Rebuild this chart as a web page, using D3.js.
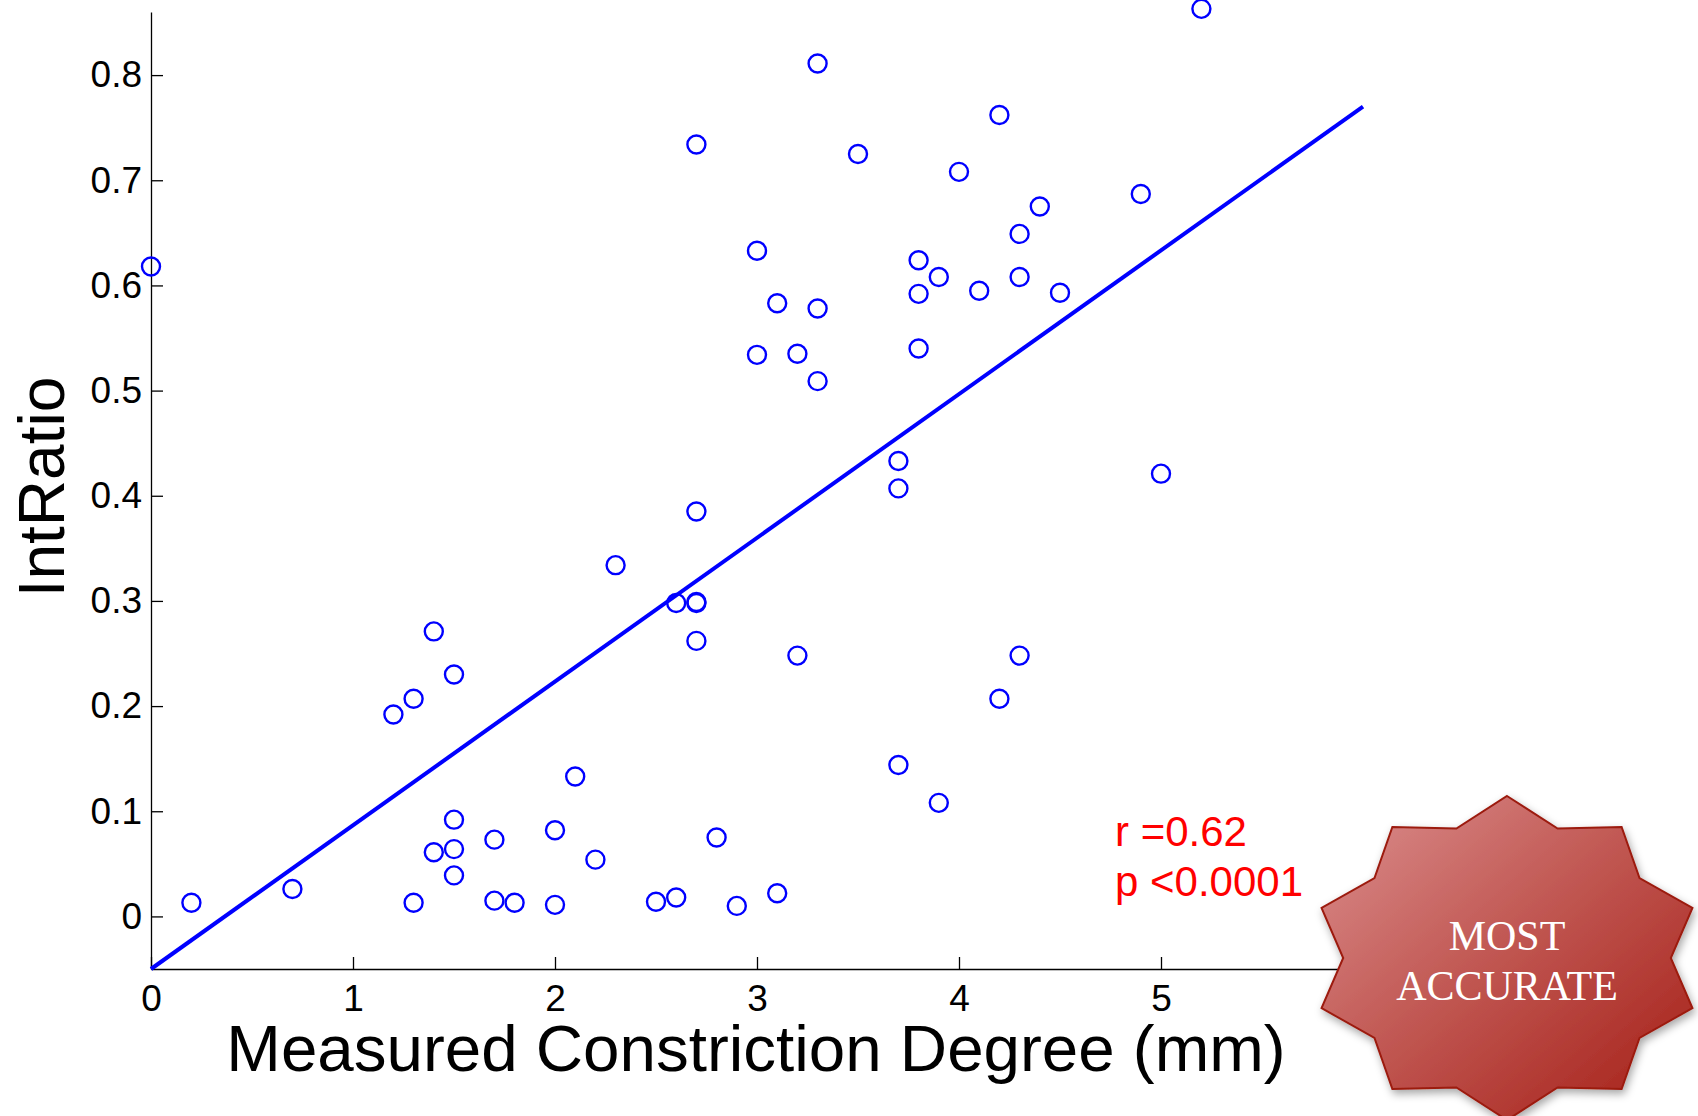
<!DOCTYPE html>
<html>
<head>
<meta charset="utf-8">
<script src="https://cdn.jsdelivr.net/npm/d3@7"></script>
<style>
  body { margin: 0; background: #fff; }
  .axis text { font-family: "Liberation Sans", Arial, Helvetica, sans-serif; font-size: 37px; fill: #000; }
  .axis path, .axis line { stroke: #000; stroke-width: 1.3; }
</style>
</head>
<body>
<script>
// measured constriction degree (mm) and IntRatio
var degree = [0, 0.2, 0.7, 1.2, 1.3, 1.4, 1.5, 1.3, 1.4, 1.5, 1.5, 1.5, 1.7, 1.7, 1.8,
  2.0, 2.0, 2.1, 2.2, 2.3, 2.5, 2.6, 2.6, 2.7, 2.7, 2.7, 2.7, 2.7, 2.8, 2.9,
  3.0, 3.0, 3.1, 3.1, 3.2, 3.2, 3.3, 3.3, 3.3, 3.5, 3.7, 3.7, 3.7, 3.8, 3.8,
  3.8, 3.9, 3.9, 4.0, 4.1, 4.2, 4.2, 4.3, 4.3, 4.3, 4.4, 4.5, 4.9, 5.0, 5.2];
var intRatio = [0.618, 0.013, 0.026, 0.192, 0.207, 0.271, 0.230, 0.013, 0.061, 0.092, 0.064, 0.039, 0.073, 0.015, 0.013,
  0.082, 0.011, 0.133, 0.054, 0.334, 0.014, 0.018, 0.298, 0.298, 0.299, 0.262, 0.385, 0.734, 0.075, 0.010,
  0.633, 0.534, 0.583, 0.022, 0.535, 0.248, 0.811, 0.578, 0.509, 0.725, 0.433, 0.407, 0.144, 0.624, 0.592,
  0.540, 0.608, 0.108, 0.708, 0.595, 0.762, 0.207, 0.649, 0.608, 0.248, 0.675, 0.593, 0.687, 0.421, 0.863];

// least squares line end points
var fitX = [0, 6];
var fitY = [-0.05, 0.77];

var xTicks = [0, 1, 2, 3, 4, 5];
var yTicks = [0, 0.1, 0.2, 0.3, 0.4, 0.5, 0.6, 0.7, 0.8];
var statLines = ["r =0.62", "p <0.0001"];
var badgeLines = ["MOST", "ACCURATE"];

var width = 1698, height = 1116;

var data = degree.map(function(d, i){ return {x: d, y: intRatio[i]}; });

var x = d3.scaleLinear().domain([0, 6]).range([151, 1363]);
var y = d3.scaleLinear().domain([-0.05, 0.86]).range([969, 12]);

var svg = d3.select('body').append('svg')
  .attr('width', width)
  .attr('height', height);

var xAxis = d3.axisBottom(x).tickValues(xTicks).tickSizeInner(-12).tickSizeOuter(0).tickPadding(16)
  .tickFormat(d3.format('d'));
var yAxis = d3.axisLeft(y).tickValues(yTicks).tickSizeInner(-12).tickSizeOuter(0).tickPadding(9)
  .tickFormat(function(d){ return d === 0 ? '0' : d3.format('.1f')(d); });

svg.append('g').attr('class', 'axis').attr('transform', 'translate(0,' + y.range()[0] + ')').call(xAxis);
svg.append('g').attr('class', 'axis').attr('transform', 'translate(' + x.range()[0] + ',0)').call(yAxis);

// axis titles
svg.append('text')
  .attr('x', 756).attr('y', 1071)
  .attr('text-anchor', 'middle')
  .style('font-family', '"Liberation Sans", Arial, sans-serif')
  .style('font-size', '65.5px')
  .text('Measured Constriction Degree (mm)');

svg.append('text')
  .attr('transform', 'translate(64,' + 487 + ') rotate(-90)')
  .attr('text-anchor', 'middle')
  .style('font-family', '"Liberation Sans", Arial, sans-serif')
  .style('font-size', '64px')
  .text('IntRatio');

// fit line
var line = d3.line().x(function(d){ return x(d[0]); }).y(function(d){ return y(d[1]); });
svg.append('path')
  .attr('d', line(fitX.map(function(d, i){ return [d, fitY[i]]; })))
  .attr('fill', 'none')
  .attr('stroke', '#0000ff')
  .attr('stroke-width', 4);

// points
svg.selectAll('.dot')
  .data(data)
  .enter()
  .append('circle')
    .attr('class', 'dot')
    .attr('cx', function(d){ return x(d.x); })
    .attr('cy', function(d){ return y(d.y); })
    .attr('r', 9)
    .attr('fill', 'none')
    .attr('stroke', '#0000ff')
    .attr('stroke-width', 2.4);

// stats
svg.selectAll('.stat')
  .data(statLines)
  .enter()
  .append('text')
    .attr('class', 'stat')
    .attr('x', 1115)
    .attr('y', function(d, i){ return 846 + i * 50; })
    .style('font-family', '"Liberation Sans", Arial, sans-serif')
    .style('font-size', '42px')
    .attr('fill', '#ff0000')
    .text(function(d){ return d; });

// badge
var defs = svg.append('defs');
var grad = defs.append('linearGradient').attr('id', 'badgeGrad')
  .attr('x1', '0%').attr('y1', '0%').attr('x2', '100%').attr('y2', '100%');
grad.append('stop').attr('offset', '0%').attr('stop-color', '#dc9090');
grad.append('stop').attr('offset', '45%').attr('stop-color', '#c25a55');
grad.append('stop').attr('offset', '100%').attr('stop-color', '#a41c14');

var shadow = defs.append('filter').attr('id', 'badgeShadow')
  .attr('x', '-10%').attr('y', '-10%').attr('width', '130%').attr('height', '130%');
shadow.append('feDropShadow').attr('dx', 2).attr('dy', 4).attr('stdDeviation', 4)
  .attr('flood-color', '#000').attr('flood-opacity', 0.35);

var cx = 1507, cy = 958, rx = 195, ry = 162, inner = 0.84;
var starPts = d3.range(20).map(function(i){
  var a = -Math.PI / 2 + i * Math.PI / 10;
  var k = i % 2 === 0 ? 1 : inner;
  return [cx + rx * k * Math.cos(a), cy + ry * k * Math.sin(a)];
});
svg.append('polygon')
  .attr('points', starPts.map(function(p){ return p.join(','); }).join(' '))
  .attr('fill', 'url(#badgeGrad)')
  .attr('stroke', '#9c1a10')
  .attr('stroke-width', 2)
  .attr('filter', 'url(#badgeShadow)');

svg.selectAll('.badge')
  .data(badgeLines)
  .enter()
  .append('text')
    .attr('class', 'badge')
    .attr('x', cx)
    .attr('y', function(d, i){ return 950 + i * 50; })
    .attr('text-anchor', 'middle')
    .style('font-family', '"Liberation Serif", "Times New Roman", serif')
    .style('font-size', '42px')
    .attr('fill', '#fff')
    .text(function(d){ return d; });
</script>
</body>
</html>
